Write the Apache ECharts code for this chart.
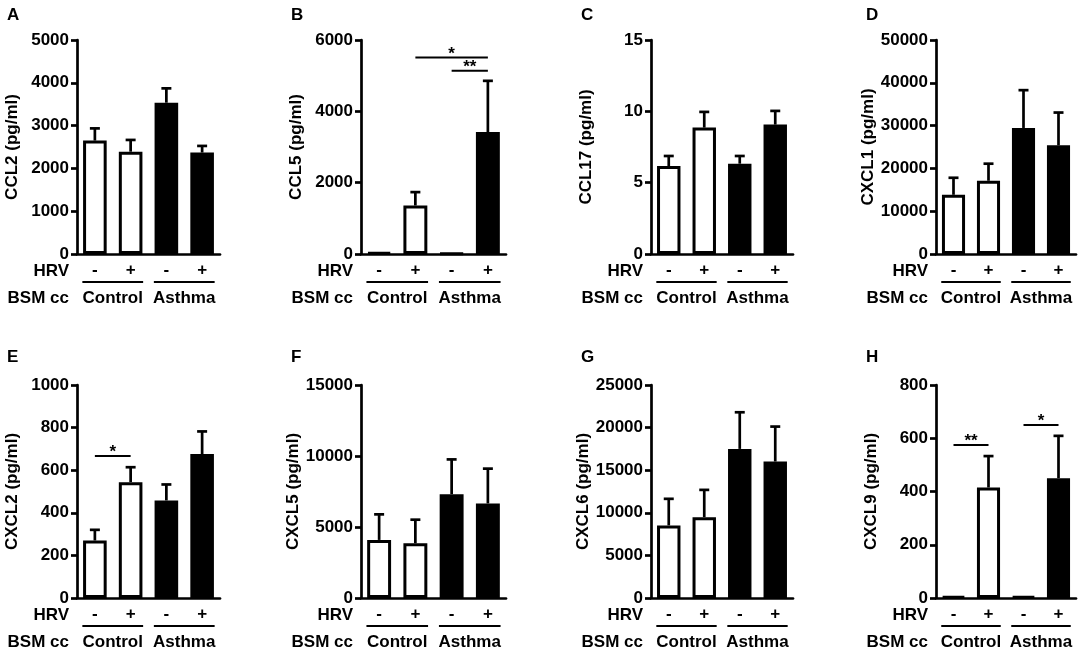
<!DOCTYPE html>
<html>
<head>
<meta charset="utf-8">
<script src="https://cdn.jsdelivr.net/npm/echarts@6/dist/echarts.min.js"></script>
<style>
html, body { margin: 0; padding: 0; background: #fff; }
#main { width: 1084px; height: 655px; }
</style>
</head>
<body>
<div id="main"></div>
<script>
// x categories and group labels
var hrvLabels = ['-', '+', '-', '+'];
var groupNames = ['Control', 'Asthma'];
var panelLetters = ['A', 'B', 'C', 'D', 'E', 'F', 'G', 'H'];
var yTitles = ['CCL2 (pg/ml)', 'CCL5 (pg/ml)', 'CCL17 (pg/ml)', 'CXCL1 (pg/ml)',
               'CXCL2 (pg/ml)', 'CXCL5 (pg/ml)', 'CXCL6 (pg/ml)', 'CXCL9 (pg/ml)'];
var yMax = [5000, 6000, 15, 50000, 1000, 15000, 25000, 800];
var yStep = [1000, 2000, 5, 10000, 200, 5000, 5000, 200];

// mean and SEM per panel (Control -, Control +, Asthma -, Asthma +)
var ccl2Mean = [2650, 2390, 3535, 2370];
var ccl2Sem = [285, 275, 335, 155];
var ccl5Mean = [45, 1360, 20, 3420];
var ccl5Sem = [0, 375, 0, 1435];
var ccl17Mean = [6.16, 8.86, 6.33, 9.07];
var ccl17Sem = [0.71, 1.10, 0.54, 0.96];
var cxcl1Mean = [13830, 17110, 29450, 25390];
var cxcl1Sem = [3980, 3990, 8830, 7660];
var cxcl2Mean = [270, 544, 458, 676];
var cxcl2Sem = [50, 70, 75, 106];
var cxcl5Mean = [4090, 3855, 7310, 6660];
var cxcl5Sem = [1800, 1660, 2450, 2450];
var cxcl6Mean = [8520, 9490, 17500, 16020];
var cxcl6Sem = [3120, 3200, 4300, 4100];
var cxcl9Mean = [5, 415, 5, 450];
var cxcl9Sem = [0, 118, 0, 159];

// significance brackets: [from category, to category, height]
var ccl5Sig = [[1, 3, 5510], [2, 3, 5140]];
var ccl5Stars = ['*', '**'];
var cxcl2Sig = [[0, 1, 667]];
var cxcl2Stars = ['*'];
var cxcl9Sig = [[0, 1, 575], [2, 3, 650]];
var cxcl9Stars = ['**', '*'];

var means = [ccl2Mean, ccl5Mean, ccl17Mean, cxcl1Mean, cxcl2Mean, cxcl5Mean, cxcl6Mean, cxcl9Mean];
var sems = [ccl2Sem, ccl5Sem, ccl17Sem, cxcl1Sem, cxcl2Sem, cxcl5Sem, cxcl6Sem, cxcl9Sem];
var sigs = { 1: [ccl5Sig, ccl5Stars], 4: [cxcl2Sig, cxcl2Stars], 7: [cxcl9Sig, cxcl9Stars] };

var colLeft = [77, 361, 651, 936];
var colWidth = [143, 145, 142, 140];
var rowTop = [40, 385];
var plotH = [214, 213];

var FONT = '"Liberation Sans", Arial, sans-serif';
var FS = 17;
var fontMain = 'bold ' + FS + 'px ' + FONT;

(function() {
    var myChart = echarts.init(document.getElementById('main'));
    var grids = [], xAxes = [], yAxes = [], series = [], graphics = [];

    function renderErr(params, api) {
	if (api.value(2) <= api.value(1)) return null;
	var a = api.coord([api.value(0), api.value(1)]);
	var b = api.coord([api.value(0), api.value(2)]);
	return { type : 'group', children : [
	    { type : 'line', shape : { x1 : a[0], y1 : a[1], x2 : b[0], y2 : b[1] }, style : { stroke : '#000', lineWidth : 2.7 } },
	    { type : 'line', shape : { x1 : b[0] - 5, y1 : b[1], x2 : b[0] + 5, y2 : b[1] }, style : { stroke : '#000', lineWidth : 2.7 } }
	] };
    }

    function renderGroup(params, api) {
	var a = api.coord([api.value(0), 0]);
	var b = api.coord([api.value(1), 0]);
	var half = api.size([1, 0])[0] * 0.35;
	return { type : 'group', children : [
	    { type : 'line', shape : { x1 : a[0] - half, y1 : a[1] + 28, x2 : b[0] + half, y2 : a[1] + 28 },
	      style : { stroke : '#000', lineWidth : 2 } },
	    { type : 'text', style : { text : groupNames[params.dataIndex], x : (a[0] + b[0]) / 2, y : a[1] + 44,
	      align : 'center', verticalAlign : 'middle', font : fontMain, fill : '#000' } }
	] };
    }

    function makeSigRender(stars) {
	return function(params, api) {
	    var a = api.coord([api.value(0), api.value(2)]);
	    var b = api.coord([api.value(1), api.value(2)]);
	    return { type : 'group', children : [
		{ type : 'line', shape : { x1 : a[0], y1 : a[1], x2 : b[0], y2 : b[1] },
		  style : { stroke : '#000', lineWidth : 2 } },
		{ type : 'text', style : { text : stars[params.dataIndex], x : (a[0] + b[0]) / 2, y : a[1] + 5,
		  align : 'center', verticalAlign : 'bottom', font : fontMain, fill : '#000' } }
	    ] };
	};
    }

    for (var p = 0; p < 8; p++) {
	var col = p % 4, row = Math.floor(p / 4);
	var gLeft = colLeft[col], gTop = rowTop[row], zero = gTop + plotH[row];
	grids.push({ left : gLeft, top : gTop, width : colWidth[col], height : plotH[row] });
	xAxes.push({
	    type : 'category',
	    gridIndex : p,
	    data : hrvLabels,
	    axisLine : { lineStyle : { color : '#000', width : 2.7 } },
	    axisTick : { show : false },
	    axisLabel : { color : '#000', fontFamily : FONT, fontWeight : 'bold', fontSize : FS, margin : 8 }
	});
	yAxes.push({
	    type : 'value',
	    gridIndex : p,
	    min : 0,
	    max : yMax[p],
	    interval : yStep[p],
	    name : yTitles[p],
	    nameLocation : 'middle',
	    nameGap : 56,
	    nameTextStyle : { color : '#000', fontFamily : FONT, fontWeight : 'bold', fontSize : FS },
	    axisLine : { show : true, lineStyle : { color : '#000', width : 2.7 } },
	    axisTick : { show : true, length : 6, lineStyle : { color : '#000', width : 2.7 } },
	    axisLabel : { color : '#000', fontFamily : FONT, fontWeight : 'bold', fontSize : FS, margin : 8,
		formatter : function(v) { return String(v); } },
	    splitLine : { show : false }
	});

	// bars
	series.push({
	    type : 'bar',
	    xAxisIndex : p,
	    yAxisIndex : p,
	    barWidth : '66%',
	    data : means[p].map(function(v, i) {
		return { value : v, itemStyle : { color : i < 2 ? '#fff' : '#000' } };
	    }),
	    itemStyle : { borderColor : '#000', borderWidth : 3 },
	    silent : true,
	    z : 2
	});

	// error bars (upper only)
	var errData = [];
	for (var i = 0; i < 4; i++) errData.push([i, means[p][i], means[p][i] + sems[p][i]]);
	series.push({
	    type : 'custom',
	    xAxisIndex : p,
	    yAxisIndex : p,
	    data : errData,
	    renderItem : renderErr,
	    silent : true,
	    z : 3
	});

	// group underline + group name under the x axis
	series.push({
	    type : 'custom',
	    xAxisIndex : p,
	    yAxisIndex : p,
	    clip : false,
	    data : [[0, 1], [2, 3]],
	    renderItem : renderGroup,
	    silent : true
	});

	// significance brackets
	if (sigs[p]) {
	    series.push({
		type : 'custom',
		xAxisIndex : p,
		yAxisIndex : p,
		clip : false,
		data : sigs[p][0],
		renderItem : makeSigRender(sigs[p][1]),
		silent : true
	    });
	}

	// panel letter and row headers
	graphics.push({ type : 'text', left : gLeft - 70, top : row === 0 ? 7 : 349,
	    style : { text : panelLetters[p], font : fontMain, fill : '#000' } });
	graphics.push({ type : 'text', x : gLeft - 8, y : zero + 17,
	    style : { text : 'HRV', font : fontMain, fill : '#000', align : 'right', verticalAlign : 'middle' } });
	graphics.push({ type : 'text', x : gLeft - 8, y : zero + 44,
	    style : { text : 'BSM cc', font : fontMain, fill : '#000', align : 'right', verticalAlign : 'middle' } });
    }

    myChart.setOption({
	animation : false,
	backgroundColor : '#fff',
	grid : grids,
	xAxis : xAxes,
	yAxis : yAxes,
	series : series,
	graphic : graphics
    });
})();
</script>
</body>
</html>
